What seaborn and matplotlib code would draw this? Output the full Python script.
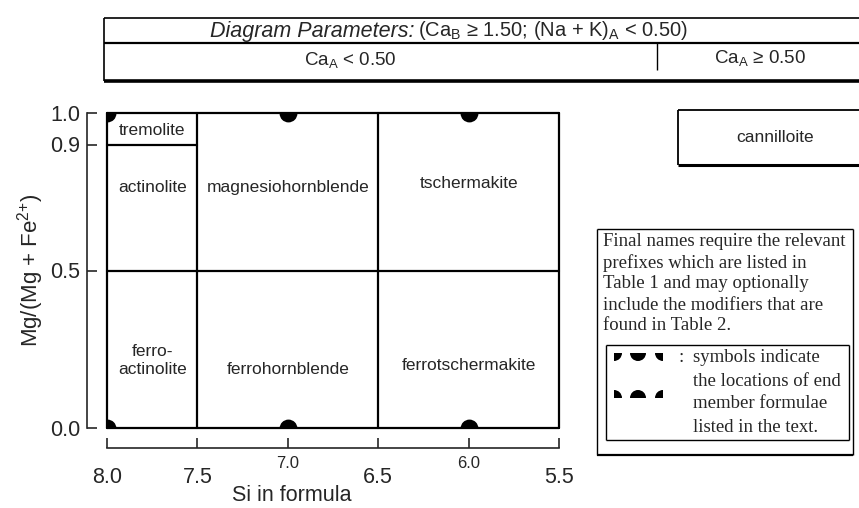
import numpy as np
import pandas as pd
import matplotlib
matplotlib.use("Agg")
import matplotlib.pyplot as plt
from matplotlib.patches import Wedge
import seaborn as sns

# axis ticks
si_ticks = [8.0, 7.5, 7.0, 6.5, 6.0, 5.5]
mg_ticks = [0.0, 0.5, 0.9, 1.0]

# field boundaries (si0, si1, mg0, mg1)
bound_si0 = [8.0, 5.5, 5.5, 8.0, 7.5, 6.5, 8.0, 8.0]
bound_si1 = [5.5, 5.5, 8.0, 8.0, 7.5, 6.5, 5.5, 7.5]
bound_mg0 = [0.0, 0.0, 1.0, 1.0, 0.0, 0.0, 0.5, 0.9]
bound_mg1 = [0.0, 1.0, 1.0, 0.0, 1.0, 1.0, 0.5, 0.9]

# field names
field_names = ["tremolite", "actinolite", "magnesiohornblende", "tschermakite",
               "ferro-\nactinolite", "ferrohornblende", "ferrotschermakite"]
field_si = [7.75, 7.75, 7.0, 6.0, 7.75, 7.0, 6.0]
field_mg = [0.945, 0.765, 0.765, 0.775, 0.215, 0.185, 0.2]

# end member positions
end_si = [8.0, 7.0, 6.0, 8.0, 7.0, 6.0]
end_mg = [1.0, 1.0, 1.0, 0.0, 0.0, 0.0]

note_lines = ["Final names require the relevant",
              "prefixes which are listed in",
              "Table 1 and may optionally",
              "include the modifiers that are",
              "found in Table 2."]
sym_lines = ["symbols indicate", "the locations of end",
             "member formulae", "listed in the text."]

sns.set_style("ticks")
plt.rcParams["font.family"] = ["Liberation Sans", "DejaVu Sans"]
plt.rcParams["mathtext.default"] = "regular"

W, H = 859, 508
fig = plt.figure(figsize=(W / 100, H / 100), dpi=100)
ax = fig.add_axes([107 / W, 1 - 428 / H, 452 / W, 315 / H])

segs = []
for i in range(len(bound_si0)):
    segs.append({"si": bound_si0[i], "mg": bound_mg0[i], "seg": i})
    segs.append({"si": bound_si1[i], "mg": bound_mg1[i], "seg": i})
df = pd.DataFrame(segs)
sns.lineplot(data=df, x="si", y="mg", units="seg", estimator=None, sort=False,
             color="black", lw=1.6, ax=ax, legend=False)
for ln in ax.lines:
    ln.set_clip_on(False)

sns.scatterplot(x=end_si, y=end_mg, s=165, color="black", linewidth=0, ax=ax,
                legend=False, zorder=3)

for name, x, y in zip(field_names, field_si, field_mg):
    ax.text(x, y, name, ha="center", va="center", fontsize=12.5, linespacing=1.25)

ax.set_xlim(8.0, 5.5)
ax.set_ylim(0.0, 1.0)
sns.despine(ax=ax, offset=14.4)
ax.spines["bottom"].set_bounds(min(si_ticks), max(si_ticks))
ax.spines["left"].set_bounds(min(mg_ticks), max(mg_ticks))
for s in ["left", "bottom"]:
    ax.spines[s].set_linewidth(1.2)

ax.set_xticks(si_ticks)
ax.set_yticks(mg_ticks)
ax.set_xticklabels([f"{v:.1f}" for v in si_ticks])
ax.set_yticklabels([f"{v:.1f}" for v in mg_ticks])
ax.tick_params(direction="in", length=7, width=1.2, labelsize=15.5)
ax.tick_params(axis="x", pad=14)
ax.tick_params(axis="y", pad=5)
# the 7.0 and 6.0 labels are printed smaller and higher
for i in [2, 4]:
    t = ax.xaxis.get_major_ticks()[i]
    t.label1.set_fontsize(12)
    t.set_pad(5.5)

ax.set_xlabel("Si in formula", fontsize=15.5)
ax.xaxis.set_label_coords(0.409, -0.18)
ax.set_ylabel("Mg/(Mg + Fe$^{2{+}}$)", fontsize=16)
ax.yaxis.set_label_coords(-0.135, 0.5)

# overlay in pixel coordinates for the boxes around the plot
ov = fig.add_axes([0, 0, 1, 1], zorder=-1)
ov.set_xlim(0, W)
ov.set_ylim(H, 0)
ov.axis("off")

def seg(x0, x1, y0, y1, lw=1.3):
    ov.plot([x0, x1], [y0, y1], color="black", lw=lw, solid_capstyle="butt")

# header table
seg(104, 870, 18, 18, 1.2)
seg(104, 870, 43, 43, 1.6)
seg(104, 870, 81, 81, 2.6)
seg(104, 104, 18, 81, 1.2)
seg(657, 657, 43, 70, 1.0)
ov.text(414, 31, "Diagram Parameters:", style="italic", ha="right", va="center", fontsize=15.5)
ov.text(418, 31, "(Ca$_B$ ≥ 1.50; (Na + K)$_A$ < 0.50)", ha="left", va="center", fontsize=14.5)
ov.text(350, 60, "Ca$_A$ < 0.50", ha="center", va="center", fontsize=13.5)
ov.text(760, 58, "Ca$_A$ ≥ 0.50", ha="center", va="center", fontsize=13.5)

# cannilloite box
seg(678, 870, 110, 110, 1.3)
seg(678, 870, 165, 165, 2.2)
seg(678, 678, 110, 165, 1.3)
ov.text(775, 137, "cannilloite", ha="center", va="center", fontsize=12.5)

# note box
seg(597, 853, 229, 229, 1.0)
seg(597, 853, 455, 455, 1.6)
seg(597, 597, 229, 455, 1.0)
seg(853, 853, 229, 455, 1.0)
for i, line in enumerate(note_lines):
    ov.text(603, 242 + i * 21, line, ha="left", va="center", fontsize=13.5,
            family="Liberation Serif")
seg(606, 849, 345, 345, 1.0)
seg(606, 849, 440, 440, 1.0)
seg(606, 606, 345, 440, 1.0)
seg(849, 849, 345, 440, 1.0)
ov.text(681, 357, ":", ha="center", va="center", fontsize=13.5, family="Liberation Serif")
for i, line in enumerate(sym_lines):
    ov.text(693, 358 + i * 23, line, ha="left", va="center", fontsize=13.5,
            family="Liberation Serif")
# symbol key (y axis of overlay points down)
for cx, cy, t1, t2 in [(614, 353, 0, 90), (638, 353, 0, 180), (663, 353, 90, 180),
                       (614, 398, 270, 360), (638, 398, 180, 360), (663, 398, 180, 270)]:
    ov.add_patch(Wedge((cx, cy), 8, t1, t2, color="black", lw=0))

fig.savefig("out.png", dpi=100)
